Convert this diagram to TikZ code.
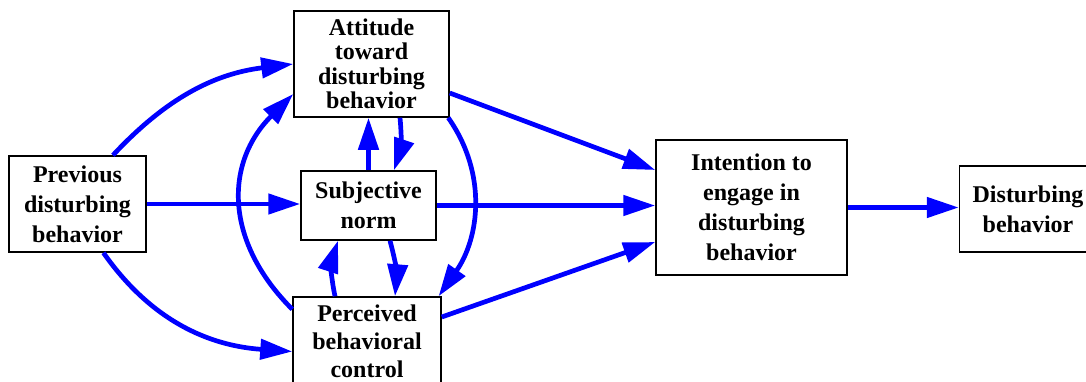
\documentclass[tikz,border=0pt]{standalone}
\usepackage{fontspec}
\setmainfont{Liberation Serif}
\usetikzlibrary{arrows.meta}

\begin{document}
\begin{tikzpicture}[x=1pt,y=1pt,
  box/.style={draw=black,line width=1.5pt,align=center,inner sep=0pt,
    font=\bfseries\fontsize{24}{30}\selectfont},
  link/.style={draw=blue,line width=4.7pt,-{Triangle[length=32pt,width=20pt]}}]
  \useasboundingbox (0,0) rectangle (1086,381);

  \node[box,minimum width=137,minimum height=96] (prev) at (77.5,177) {Previous\\disturbing\\behavior};
  \node[box,minimum width=155,minimum height=106,font=\bfseries\fontsize{24}{24.5}\selectfont] (att) at (371.5,317) {Attitude\\toward\\disturbing\\behavior};
  \node[box,minimum width=135,minimum height=69] (subj) at (368.5,175.5) {Subjective\\norm};
  \node[box,minimum width=148,minimum height=88,font=\bfseries\fontsize{24}{28}\selectfont] (perc) at (367,40) {Perceived\\behavioral\\control};
  \node[box,minimum width=191,minimum height=135] (int) at (751.5,173.5) {Intention to\\engage in\\disturbing\\behavior};
  \node[box,minimum width=137,minimum height=86] (dist) at (1028,172) {Disturbing\\behavior};

  \draw[link] (prev.54) to[out=47,in=187] (att.west);
  \draw[link] (prev.east) -- (prev.east -| subj.west);
  \draw[link] (prev.-62.5) to[out=-55,in=176] (perc.188.5);
  \draw[link] (perc.157.3) to[out=135,in=-135,looseness=1.15] (att.201.8);
  \draw[link] (att.-35) to[out=-55,in=55] (perc.32);
  \draw[link] (subj.north) -- (subj.north |- att.south);
  \draw[link] ([xshift=28.5]att.south) to[bend left=12] ([xshift=25.5]subj.north);
  \draw[link] ([xshift=-32]perc.north) to[bend left=15] ([xshift=-30.5]subj.south);
  \draw[link] ([xshift=21.5]subj.south) to[bend left=10] ([xshift=28]perc.north);
  \draw[link] ([yshift=-29]att.east) -- ([yshift=37.5]int.west);
  \draw[link] (subj.east) -- (subj.east -| int.west);
  \draw[link] ([yshift=24]perc.east) -- ([yshift=-34.5]int.west);
  \draw[link] (int.east) -- (int.east -| dist.west);
\end{tikzpicture}
\end{document}
